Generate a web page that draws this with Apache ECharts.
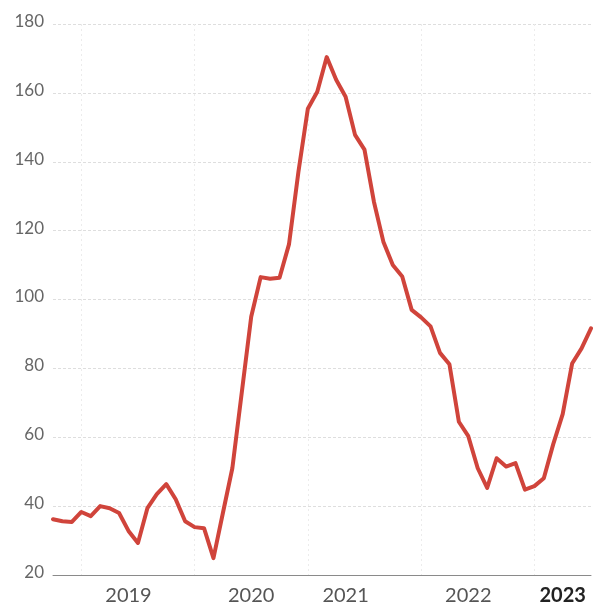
<!DOCTYPE html>
<html>
<head>
<meta charset="utf-8">
<script src="https://cdn.jsdelivr.net/npm/echarts@6/dist/echarts.min.js"></script>
<style>
  html, body { margin: 0; padding: 0; background: #ffffff; }
  #chart { width: 593px; height: 608px; }
</style>
</head>
<body>
<div id="chart"></div>
<script>
// Monthly observations, Oct 2018 .. Jul 2023
const startYear = 2018, startMonth = 10; // October 2018
const values = [
  36.2, 35.6, 35.4, 38.3, 37.1, 40.0, 39.4, 38.0, 32.8, 29.3,
  39.4, 43.5, 46.4, 42.0, 35.6, 33.9, 33.6, 24.9, 38.0, 51.0,
  73.0, 95.0, 106.5, 106.0, 106.3, 116.0, 137.0, 155.4, 160.3, 170.4,
  163.8, 158.9, 147.8, 143.5, 128.4, 116.8, 110.0, 106.7, 97.0, 94.8,
  92.2, 84.5, 81.2, 64.5, 60.3, 51.0, 45.3, 53.9, 51.5, 52.5,
  44.8, 45.8, 48.1, 58.0, 66.7, 81.4, 85.8, 91.6
];
const yearLabels = ['2019', '2020', '2021', '2022', '2023'];
const yearLabelMonths = ['2019-06', '2020-07', '2021-05', '2022-06', '2023-04'];
const boldLabel = '2023';
const yTicks = { min: 20, max: 180, step: 20 };

const months = values.map((_, i) => {
  const m0 = startMonth - 1 + i;
  const y = startYear + Math.floor(m0 / 12);
  const m = (m0 % 12) + 1;
  return y + '-' + String(m).padStart(2, '0');
});
const labelAt = {};
yearLabelMonths.forEach((m, k) => { labelAt[m] = yearLabels[k]; });

const chart = echarts.init(document.getElementById('chart'), null, { renderer: 'canvas' });
chart.setOption({
  animation: false,
  backgroundColor: '#ffffff',
  grid: { left: 53, right: 2, top: 24, bottom: 33, containLabel: false },
  xAxis: {
    type: 'category',
    data: months,
    boundaryGap: false,
    axisLine: { show: true, lineStyle: { color: '#8a8a8a', width: 1 } },
    axisTick: { show: false },
    splitLine: {
      show: true,
      interval: (i, v) => v.endsWith('-01'),
      lineStyle: { color: '#ececec', width: 1, type: [2, 3] }
    },
    axisLabel: {
      interval: (i, v) => labelAt[v] !== undefined,
      margin: 11,
      fontFamily: 'Lato',
      fontSize: 20,
      color: '#555555',
      formatter: (v) => {
        const t = labelAt[v] || '';
        return t === boldLabel ? '{b|' + t + '}' : t;
      },
      rich: {
        b: { fontFamily: 'Lato', fontSize: 20, fontWeight: 'bold', color: '#222222' }
      }
    }
  },
  yAxis: {
    type: 'value',
    min: yTicks.min,
    max: yTicks.max,
    interval: yTicks.step,
    axisLine: { show: false },
    axisTick: { show: false },
    axisLabel: {
      margin: 9,
      fontFamily: 'Lato',
      fontSize: 17,
      color: '#666666',
      verticalAlign: 'bottom',
      padding: [0, 0, -6, 0]
    },
    splitLine: { show: true, lineStyle: { color: '#dedede', width: 1, type: [3, 2] } }
  },
  series: [{
    type: 'line',
    data: values,
    showSymbol: false,
    symbol: 'none',
    lineStyle: { color: '#d0443b', width: 4, join: 'round', cap: 'round' },
    z: 5
  }]
});
</script>
</body>
</html>
